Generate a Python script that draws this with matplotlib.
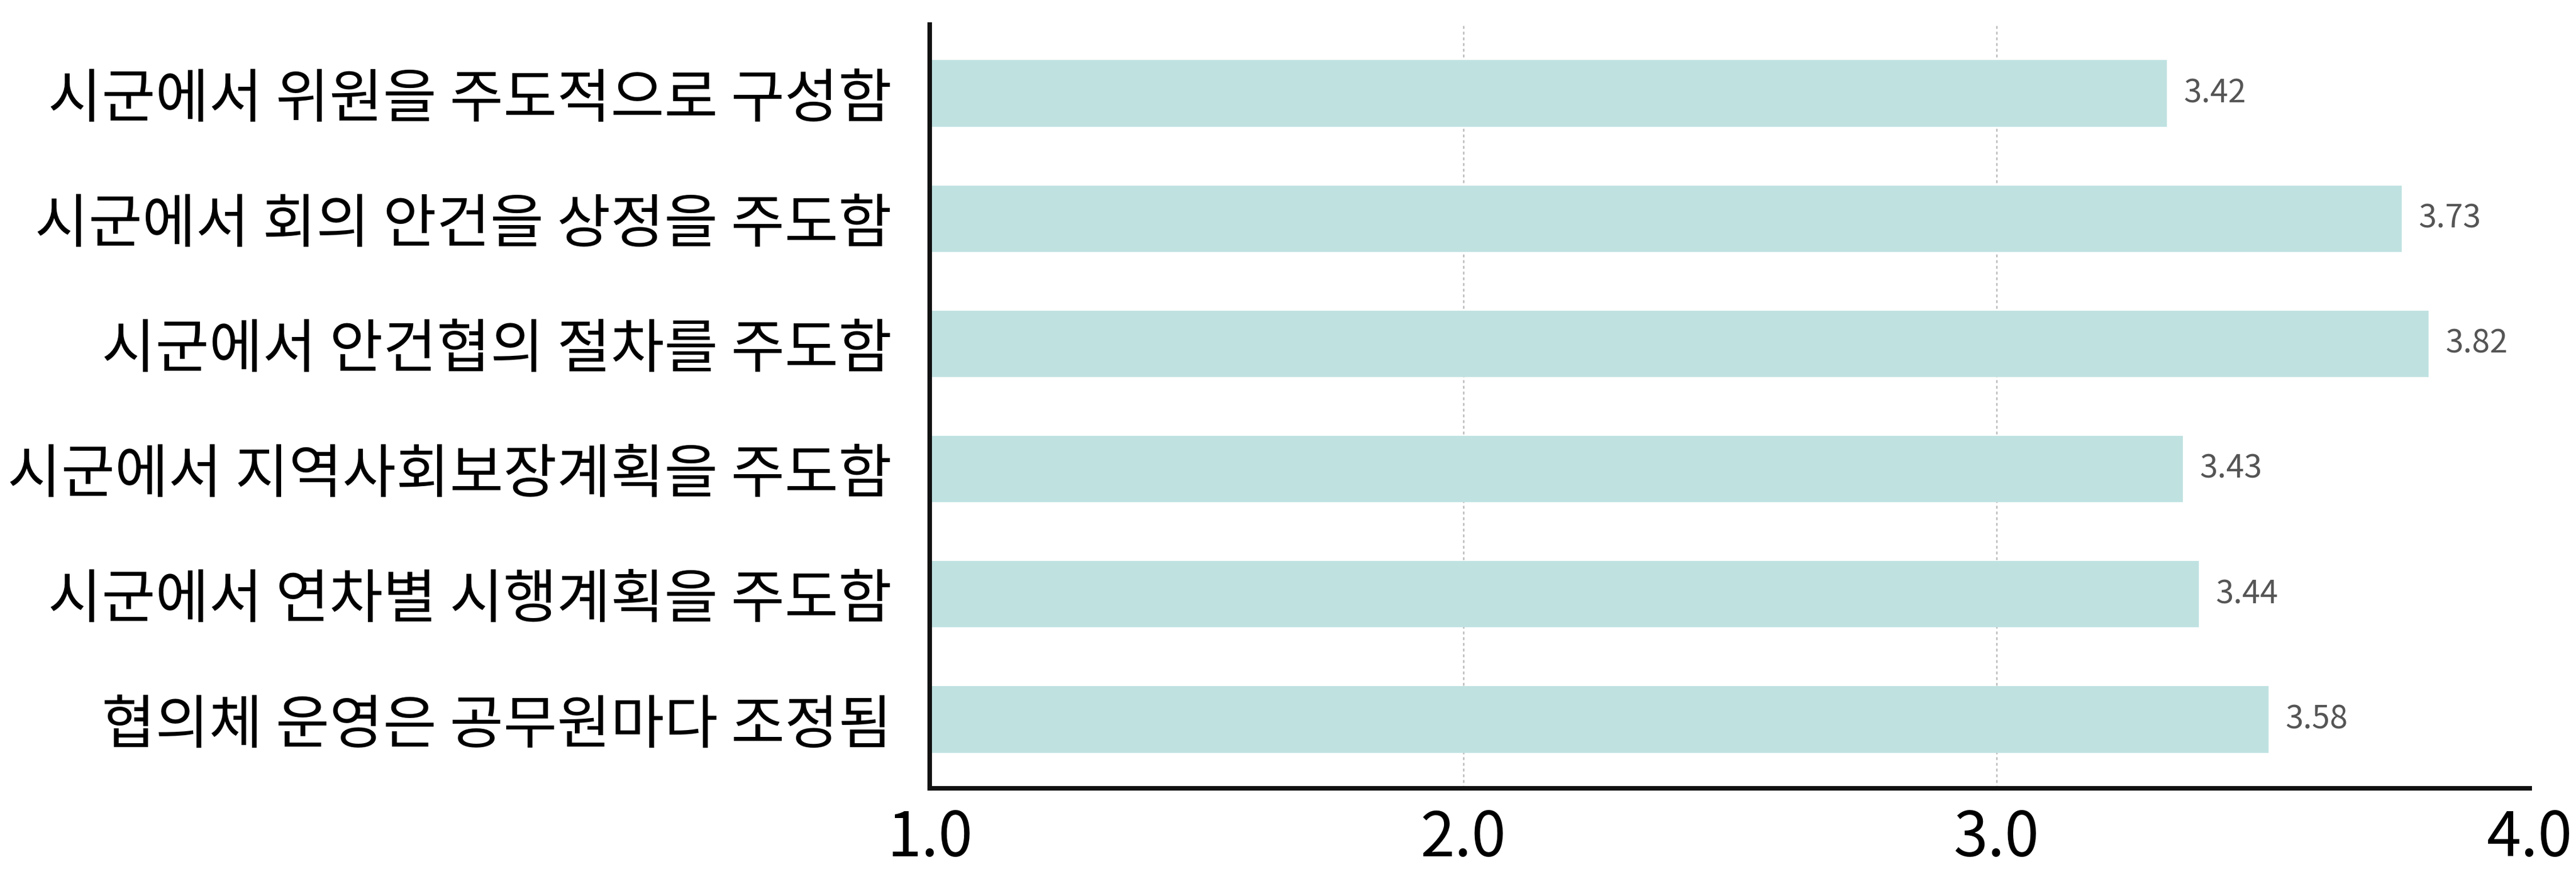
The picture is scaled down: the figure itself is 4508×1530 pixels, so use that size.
import matplotlib
matplotlib.use("Agg")
import matplotlib.pyplot as plt

# categories top to bottom
categories = [
    "시군에서 위원을 주도적으로 구성함",
    "시군에서 회의 안건을 상정을 주도함",
    "시군에서 안건협의 절차를 주도함",
    "시군에서 지역사회보장계획을 주도함",
    "시군에서 연차별 시행계획을 주도함",
    "협의체 운영은 공무원마다 조정됨",
]
# bar lengths as drawn in the picture
bar_values = [3.32, 3.76, 3.81, 3.35, 3.38, 3.51]
# printed value labels
value_labels = ["3.42", "3.73", "3.82", "3.43", "3.44", "3.58"]
x_ticks = [1.0, 2.0, 3.0, 4.0]

plt.rcParams["font.family"] = ["Noto Sans CJK KR", "DejaVu Sans"]

fig = plt.figure(figsize=(15.027, 5.1), dpi=300)
ax = fig.add_axes([0.361, 0.098, 0.621, 0.874])

ypos = list(range(len(categories)))
ax.barh(ypos, [v - 1.0 for v in bar_values], left=1.0, height=0.53,
        color="#bfe2e1", zorder=2)

for y, v, lab in zip(ypos, bar_values, value_labels):
    ax.annotate(lab, (v, y), xytext=(7, 0), textcoords="offset points",
                va="center", ha="left", fontsize=13.5, color="#555555",
                fontweight="light")

for t in x_ticks[1:-1]:
    ax.axvline(t, color="#bbbbbb", lw=0.6, ls=(0, (2, 2)), zorder=1)

ax.set_xlim(1.0, 4.0)
ax.set_ylim(len(categories) - 0.45, -0.55)
ax.set_xticks(x_ticks)
ax.set_xticklabels([f"{t:.1f}" for t in x_ticks], fontsize=26, fontweight="light")
ax.set_yticks(ypos)
ax.set_yticklabels(categories, fontsize=24.5)
ax.tick_params(axis="both", length=0)
ax.tick_params(axis="x", pad=8)
ax.tick_params(axis="y", pad=16)

for s in ("top", "right"):
    ax.spines[s].set_visible(False)
for s in ("left", "bottom"):
    ax.spines[s].set_linewidth(1.9)
    ax.spines[s].set_color("#111111")

fig.savefig("out.png", dpi=300, facecolor="white")
